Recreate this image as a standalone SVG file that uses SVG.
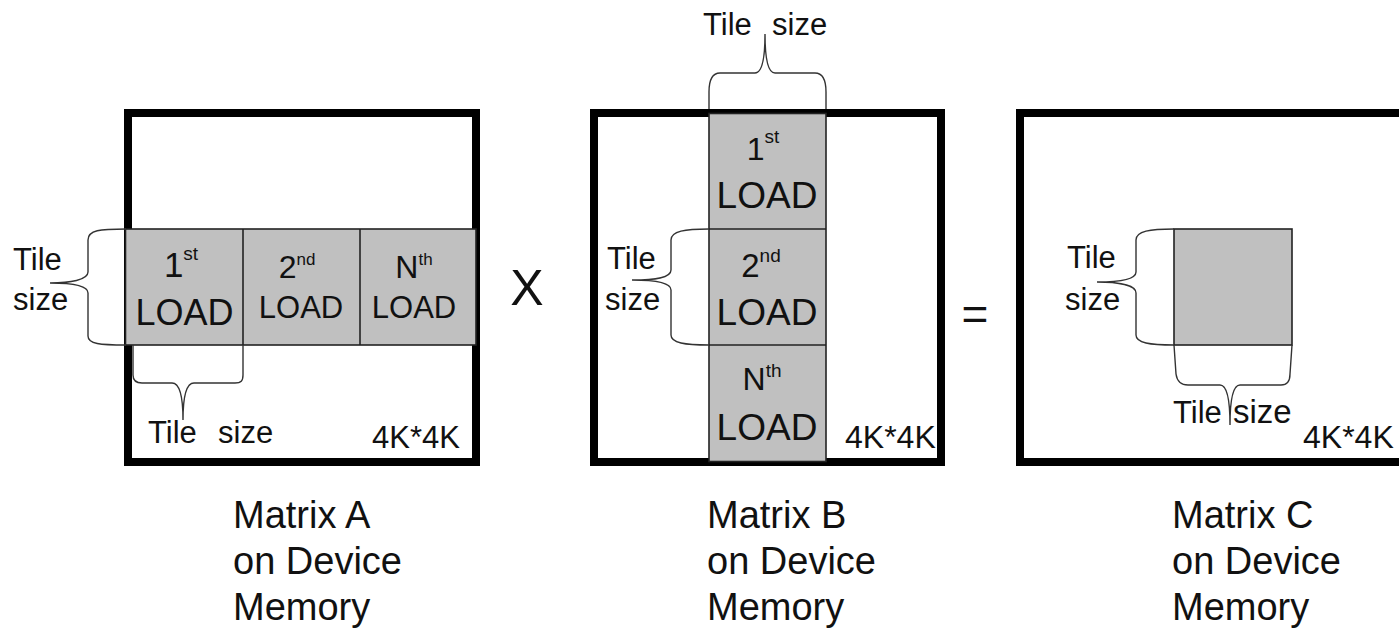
<svg xmlns="http://www.w3.org/2000/svg" width="1399" height="630" viewBox="0 0 1399 630">
<style>
text{font-family:"Liberation Sans",Arial,Helvetica,sans-serif;fill:#111}
.frame{fill:#fff;stroke:#000;stroke-width:8}
.tile{fill:#c0c0c0;stroke:#222;stroke-width:1.6}
.div{stroke:#222;stroke-width:1.6}
.brace{fill:none;stroke:#333;stroke-width:1.4}
.lbl{font-size:31px}
.cap{font-size:38px}
</style>
<rect width="1399" height="630" fill="#fff"/>

<g id="matrixA">
<rect class="frame" x="128" y="113" width="348" height="349"/>
<rect class="tile" x="125.5" y="229" width="350.5" height="116"/>
<line class="div" x1="243" y1="229" x2="243" y2="345"/>
<line class="div" x1="360" y1="229" x2="360" y2="345"/>
<text x="181" y="277" text-anchor="middle" font-size="35">1<tspan font-size="19" dy="-17">st</tspan></text>
<text x="184.5" y="325" text-anchor="middle" font-size="36">LOAD</text>
<text x="297" y="278" text-anchor="middle" font-size="32">2<tspan font-size="17" dy="-13">nd</tspan></text>
<text x="301" y="318" text-anchor="middle" font-size="31">LOAD</text>
<text x="414" y="278" text-anchor="middle" font-size="32">N<tspan font-size="17" dy="-13">th</tspan></text>
<text x="414" y="318" text-anchor="middle" font-size="31">LOAD</text>
<text class="lbl" x="13" y="270">Tile</text>
<text class="lbl" x="13" y="310">size</text>
<text class="lbl" x="148" y="443">Tile</text>
<text class="lbl" x="218" y="443">size</text>
<text x="372" y="448" font-size="31">4K*4K</text>
<text class="cap" x="233" y="528">Matrix A</text>
<text class="cap" x="233" y="574">on Device</text>
<text class="cap" x="233" y="620">Memory</text>
</g>

<g id="times"><text x="527" y="305" text-anchor="middle" font-size="50">X</text></g>

<g id="matrixB">
<rect class="frame" x="594" y="113" width="347" height="349"/>
<rect class="tile" x="709" y="113.5" width="117" height="348"/>
<line class="div" x1="709" y1="229" x2="826" y2="229"/>
<line class="div" x1="709" y1="345" x2="826" y2="345"/>
<text x="763" y="160" text-anchor="middle" font-size="32">1<tspan font-size="19" dy="-17">st</tspan></text>
<text x="767" y="208" text-anchor="middle" font-size="37">LOAD</text>
<text x="761" y="277" text-anchor="middle" font-size="33">2<tspan font-size="19" dy="-15">nd</tspan></text>
<text x="767" y="325" text-anchor="middle" font-size="37">LOAD</text>
<text x="762" y="390" text-anchor="middle" font-size="32">N<tspan font-size="19" dy="-13">th</tspan></text>
<text x="767" y="440" text-anchor="middle" font-size="37">LOAD</text>
<text class="lbl" x="703" y="35">Tile</text>
<text class="lbl" x="772" y="35">size</text>
<text class="lbl" x="607" y="269">Tile</text>
<text class="lbl" x="605" y="310">size</text>
<text x="845" y="448" font-size="32">4K*4K</text>
<text class="cap" x="707" y="528">Matrix B</text>
<text class="cap" x="707" y="574">on Device</text>
<text class="cap" x="707" y="620">Memory</text>
</g>

<g id="equals"><text x="975" y="330" text-anchor="middle" font-size="46">=</text></g>

<g id="matrixC">
<rect class="frame" x="1020" y="113" width="400" height="349"/>
<rect class="tile" x="1174" y="229" width="118" height="116"/>
<text class="lbl" x="1067" y="268">Tile</text>
<text class="lbl" x="1065" y="310">size</text>
<text class="lbl" x="1173" y="423">Tile</text>
<text x="1233" y="423" font-size="33">size</text>
<text x="1303" y="448" font-size="32">4K*4K</text>
<text class="cap" x="1172" y="528">Matrix C</text>
<text class="cap" x="1172" y="574">on Device</text>
<text class="cap" x="1172" y="620">Memory</text>
</g>

<g id="braces">
<path class="brace" d="M126,229 C100,229 88,230 88,240 L88,272 C88,280 70,283 50,283 C70,283 88,285 88,293 L88,336 C88,344 100,345 126,345"/>
<path class="brace" d="M133,345 L133,375 C133,381 136,383 142,383 L172,383 C178,383 183,390 183,420 C183,390 188,383 194,383 L235,383 C241,383 243,381 243,375 L243,345"/>
<path class="brace" d="M709,109 L709,92 C709,80 712,73 720,73 L755,73 C762,73 765,60 765,34 C765,60 768,73 775,73 L815,73 C823,73 826,80 826,92 L826,109"/>
<path class="brace" d="M709,229 C685,229 671,231 671,240 L671,270 C671,278 655,280 632,280 C655,280 671,283 671,290 L671,335 C671,343 685,345 709,345"/>
<path class="brace" d="M1174,229 C1150,229 1136,231 1136,240 L1136,272 C1136,280 1118,282 1097,282 C1118,282 1136,285 1136,293 L1136,335 C1136,343 1150,345 1174,345"/>
<path class="brace" d="M1174,345 L1176,374 C1177,381 1181,385 1188,385 L1220,385 C1226,385 1230,395 1230,425 C1230,395 1234,385 1240,385 L1281,385 C1287,385 1290,381 1290,374 L1292,345"/>
</g>
</svg>
